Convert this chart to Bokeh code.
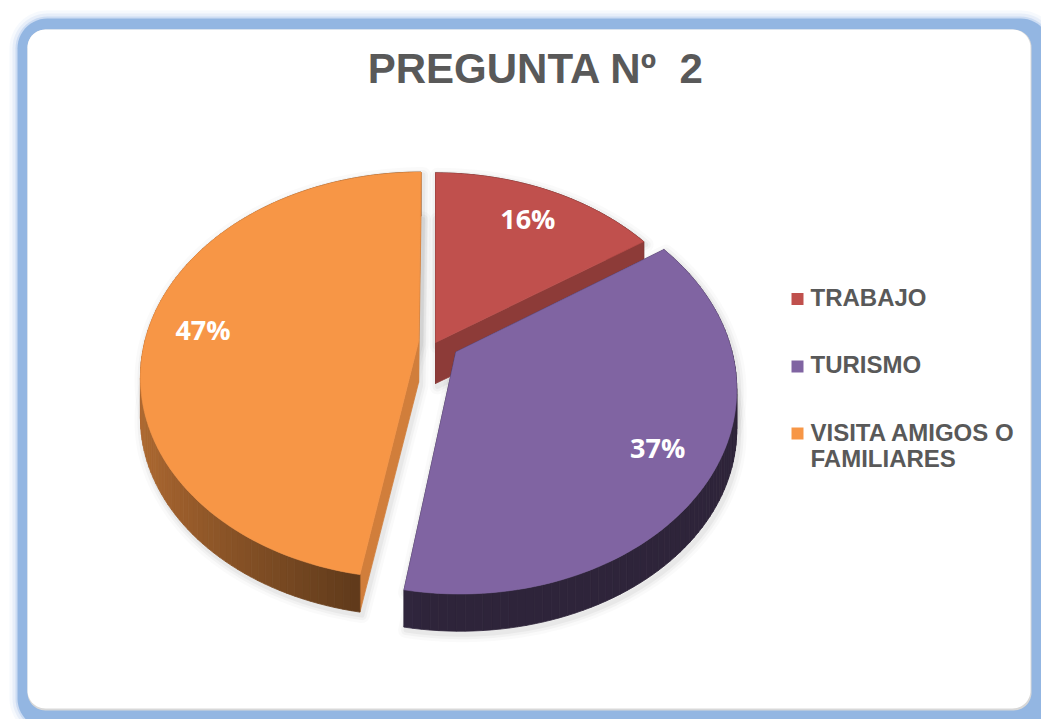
import numpy as np
from bokeh.plotting import figure
from bokeh.models import Range1d
from bokeh.core.properties import value
from bokeh.embed import file_html
from bokeh.resources import INLINE

# ---------------- data ----------------
title_text = "PREGUNTA Nº  2"
categories = ["TRABAJO", "TURISMO", "VISITA AMIGOS O FAMILIARES"]
legend_lines = [["TRABAJO"], ["TURISMO"], ["VISITA AMIGOS O", "FAMILIARES"]]
shares = [15.6, 37.1, 47.3]          # estimated shares (labels show them rounded)
explode = [0.0, 0.088, 0.062]        # per-slice explosion (fraction of radius)
colors = ["#C0504D", "#8064A2", "#F79646"]

# ---------------- layout / style ----------------
W, H = 1041, 719
CX, CY = 435.0, 342.0      # pie centre (screen px, y down)
RX, AY = 274.0, 198.0      # radii
K = 0.167                  # perspective strength
T = 41.0                   # thickness
LABEL_R = 0.8

p = figure(width=W, height=H, x_range=Range1d(0, W), y_range=Range1d(H, 0),
           output_backend="svg", toolbar_location=None, min_border=0,
           x_axis_type=None, y_axis_type=None)
p.grid.visible = False
p.outline_line_color = None
p.background_fill_color = "white"
p.border_fill_color = "white"


def rrect(x0, y0, x1, y1, r, n=14):
    xs, ys = [], []
    corners = [(x1 - r, y0 + r, -90, 0), (x1 - r, y1 - r, 0, 90),
               (x0 + r, y1 - r, 90, 180), (x0 + r, y0 + r, 180, 270)]
    for cx, cy, a0, a1 in corners:
        t = np.radians(np.linspace(a0, a1, n))
        xs.extend(cx + r * np.cos(t))
        ys.extend(cy + r * np.sin(t))
    return list(xs), list(ys)


# frame with soft glow
for d, a in [(8, 0.08), (5, 0.14), (2, 0.3)]:
    xs, ys = rrect(17 - d, 18 - d, 1050 + d, 728 + d, 30 + d)
    p.patch(xs, ys, fill_color="#8EB4E3", fill_alpha=a, line_color=None)
xs, ys = rrect(17, 18, 1050, 728, 30)
p.patch(xs, ys, fill_color="#93B6E2", line_color=None)
xs, ys = rrect(27, 29, 1031, 710, 18)
p.patch(xs, ys, fill_color="#D8D8D8", line_color=None)
xs, ys = rrect(27, 29, 1030, 708, 18)
p.patch(xs, ys, fill_color="white", line_color=None)


def proj(u, v, z):
    s = 1.0 / (1.0 + K * v)
    return CX + RX * u * s, CY - AY * v * s + z * T / np.sqrt(s)


def shade(hexc, m):
    h = hexc.lstrip("#")
    r, g, b = (int(h[i:i + 2], 16) for i in (0, 2, 4))
    return "#%02x%02x%02x" % (min(255, int(r * m)), min(255, int(g * m)), min(255, int(b * m)))


total = float(sum(shares))
fr = np.array(shares) / total
ends = np.cumsum(fr) * 360.0
starts = np.concatenate([[0.0], ends[:-1]])

quads, tops, bottoms, labels = [], [], [], []
for i in range(len(shares)):
    a0, a1 = starts[i], ends[i]
    mid = np.radians((a0 + a1) / 2)
    e = explode[i]
    du, dv = e * np.sin(mid), e * np.cos(mid)
    n = max(4, int((a1 - a0) / 1.5))
    th = np.radians(np.linspace(a0, a1, n))
    pu = np.concatenate([[du], du + np.sin(th)])
    pv = np.concatenate([[dv], dv + np.cos(th)])
    tx, ty = proj(pu, pv, 0)
    bx, by = proj(pu, pv, 1)
    tops.append((dv, list(tx), list(ty), colors[i]))
    bottoms.append((list(tx), list(ty), list(bx), list(by)))
    m_pts = len(pu)
    for j in range(m_pts):
        k2 = (j + 1) % m_pts
        if j == 0:
            nang = np.radians(a0) - np.pi / 2
            m = 0.6 + 0.25 * np.sin(nang)
        elif j == m_pts - 1:
            nang = np.radians(a1) + np.pi / 2
            m = 0.6 + 0.25 * np.sin(nang)
        else:
            ang = (th[j - 1] + th[j]) / 2
            f = (1 - np.sin(ang)) / 2
            m = 0.36 + max(0.0, f - 0.55) * 0.8
        qx = [tx[j], tx[k2], bx[k2], bx[j]]
        qy = [ty[j], ty[k2], by[k2], by[j]]
        depth = (pv[j] + pv[k2]) / 2
        quads.append((depth, qx, qy, shade(colors[i], m)))
    lu = du + LABEL_R * np.sin(mid)
    lv = dv + LABEL_R * np.cos(mid)
    lx, ly = proj(lu, lv, 0)
    labels.append((lx, ly, "%d%%" % round(shares[i])))

# soft shadow halo
for (tx, ty, bx, by) in bottoms:
    for lw, a in [(16, 0.02), (10, 0.03), (5, 0.04)]:
        for xx, yy in [(tx, ty), (bx, by)]:
            p.patch([x + 2 for x in xx], [y + 3 for y in yy], fill_color="black", fill_alpha=0.0,
                    line_color="black", line_alpha=a, line_width=lw, line_join="round")

quads.sort(key=lambda q: -q[0])
p.patches([q[1] for q in quads], [q[2] for q in quads], fill_color=[q[3] for q in quads],
          line_color=[q[3] for q in quads], line_width=0.8)
tops.sort(key=lambda q: -q[0])
p.patches([q[1] for q in tops], [q[2] for q in tops], fill_color=[q[3] for q in tops],
          line_color=[q[3] for q in tops], line_width=0.6)

p.text(x=[l[0] for l in labels], y=[l[1] + 1.0 for l in labels], text=[l[2] for l in labels],
       text_color="white", text_font=value("Open Sans"), text_font_style="bold",
       text_font_size="27px", text_align="center", text_baseline="alphabetic")

# title
p.text(x=[535.5], y=[68], text=[title_text.replace("  ", " \u00a0")], text_color="#595959",
       text_font=value("Liberation Sans"), text_font_style="bold",
       text_font_size="42px", text_align="center", text_baseline="alphabetic")

# legend
sq_y = [298.5, 366, 433]
base_y = [297, 364, 432]
for i, lines in enumerate(legend_lines):
    p.rect(x=[797], y=[sq_y[i]], width=12, height=12, fill_color=colors[i], line_color=None)
    p.text(x=[810] * len(lines), y=[base_y[i] + 26 * k for k in range(len(lines))], text=lines,
           text_color="#595959", text_font=value("Liberation Sans"), text_font_style="bold",
           text_font_size="24px", text_align="left", text_baseline="alphabetic")

open("out.html", "w").write(file_html(p, INLINE))
